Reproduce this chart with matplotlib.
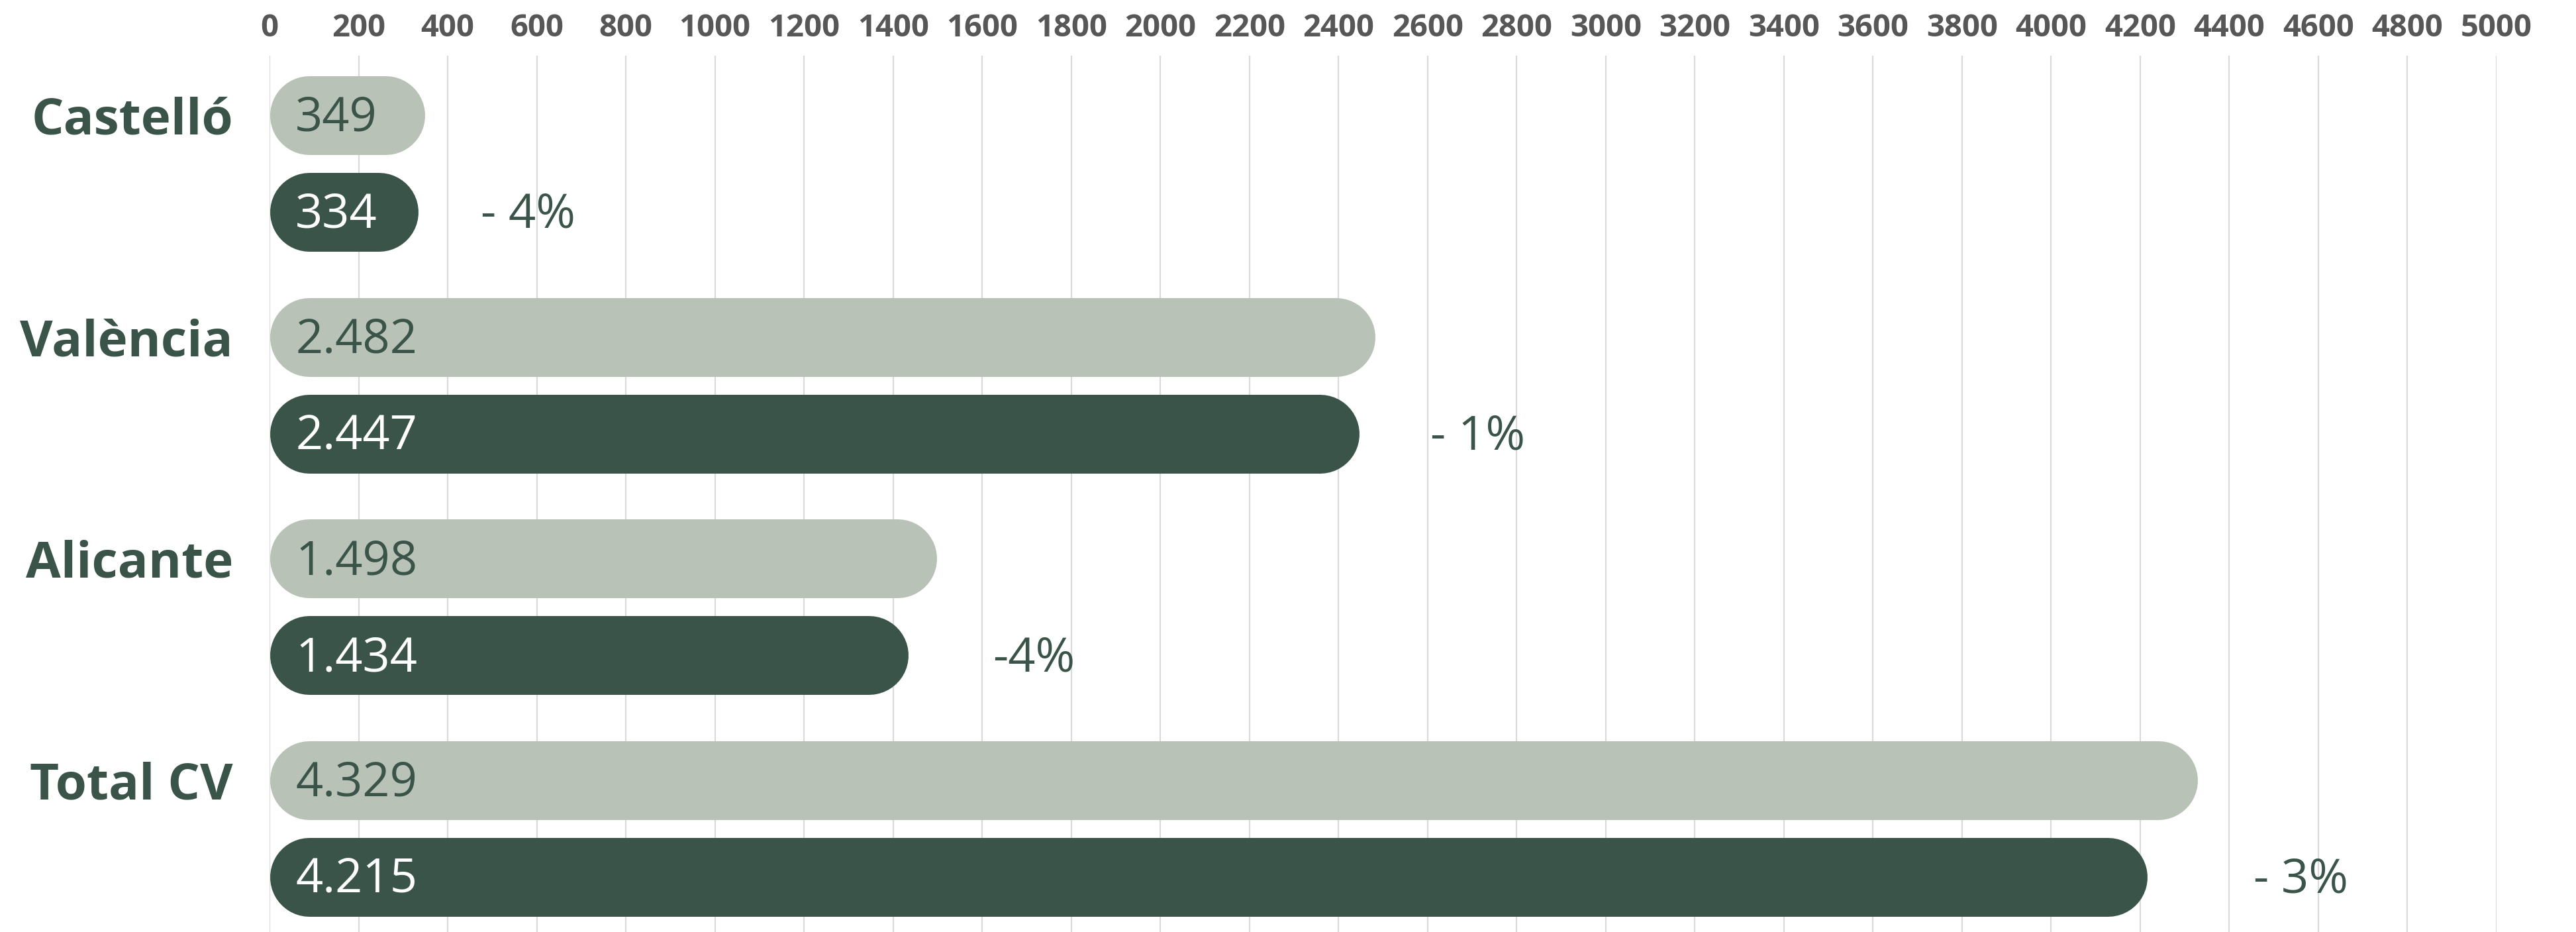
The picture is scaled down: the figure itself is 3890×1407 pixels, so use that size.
import matplotlib
matplotlib.use("Agg")
import matplotlib.pyplot as plt
import numpy as np

# ---- data ----
categories = ["Castelló", "València", "Alicante", "Total CV"]
prev_values = [349, 2482, 1498, 4329]
curr_values = [334, 2447, 1434, 4215]
prev_labels = ["349", "2.482", "1.498", "4.329"]
curr_labels = ["334", "2.447", "1.434", "4.215"]
change_labels = ["- 4%", "- 1%", "-4%", "- 3%"]
xticks = list(range(0, 5001, 200))

# ---- style ----
LIGHT = "#B9C2B6"
DARK = "#3A5449"
GRID = "#DADADA"
TICKC = "#575757"
FONT = ["Open Sans", "DejaVu Sans"]
plt.rcParams["font.family"] = FONT

W, H, DPI = 3891, 1407, 100
fig = plt.figure(figsize=(W / DPI, H / DPI), dpi=DPI)
fig.patch.set_facecolor("white")

# axes geometry in pixels
x0_px, x1_px = 407, 3770
top_px = 84
ax = fig.add_axes([x0_px / W, 0, (x1_px - x0_px) / W, 1 - top_px / H])

xmax = 5000
px_per_x = (x1_px - x0_px) / xmax

# vertical layout (pixel based)
group_start = 174.0
group_step = 334.7
dark_off = 146.0
bar_h_px = 119.0
text_dy = 5.0

ax.set_xlim(0, xmax)
ax.set_ylim(H, top_px)  # y in pixel-like units, inverted

n = len(categories)
y_light = [group_start + i * group_step for i in range(n)]
y_dark = [y + dark_off for y in y_light]

lw_pt = bar_h_px * 72.0 / DPI
r = (bar_h_px / 2.0) / px_per_x

def pill(y, v, color):
    ax.plot([r, max(v - r, r + 1e-6)], [y, y], color=color, lw=lw_pt,
            solid_capstyle="round", zorder=3)

for i in range(n):
    pill(y_light[i], prev_values[i], LIGHT)
    pill(y_dark[i], curr_values[i], DARK)
    ax.text(58, y_light[i] + text_dy, prev_labels[i], color=DARK, fontsize=52,
            ha="left", va="center", zorder=4)
    ax.text(58, y_dark[i] + text_dy, curr_labels[i], color="white", fontsize=52,
            ha="left", va="center", zorder=4)
    ax.text(max(prev_values[i], curr_values[i]) + 125, y_dark[i] + text_dy,
            change_labels[i], color=DARK, fontsize=52, ha="left", va="center", zorder=4)

# category labels
ax.set_yticks(y_light)
ax.set_yticklabels(categories, fontsize=55, fontweight="bold", color=DARK)
ax.tick_params(axis="y", length=0, pad=(x0_px - 352) * 72 / DPI)

# top ticks
ax.set_xticks(xticks)
ax.set_xticklabels([str(t) for t in xticks], fontsize=34, fontweight="bold", color=TICKC)
ax.xaxis.tick_top()
ax.tick_params(axis="x", length=0, pad=13)

ax.grid(axis="x", color=GRID, lw=1.6, zorder=0)
ax.set_axisbelow(True)
for s in ax.spines.values():
    s.set_visible(False)

fig.savefig("out.png", dpi=DPI, facecolor="white")
